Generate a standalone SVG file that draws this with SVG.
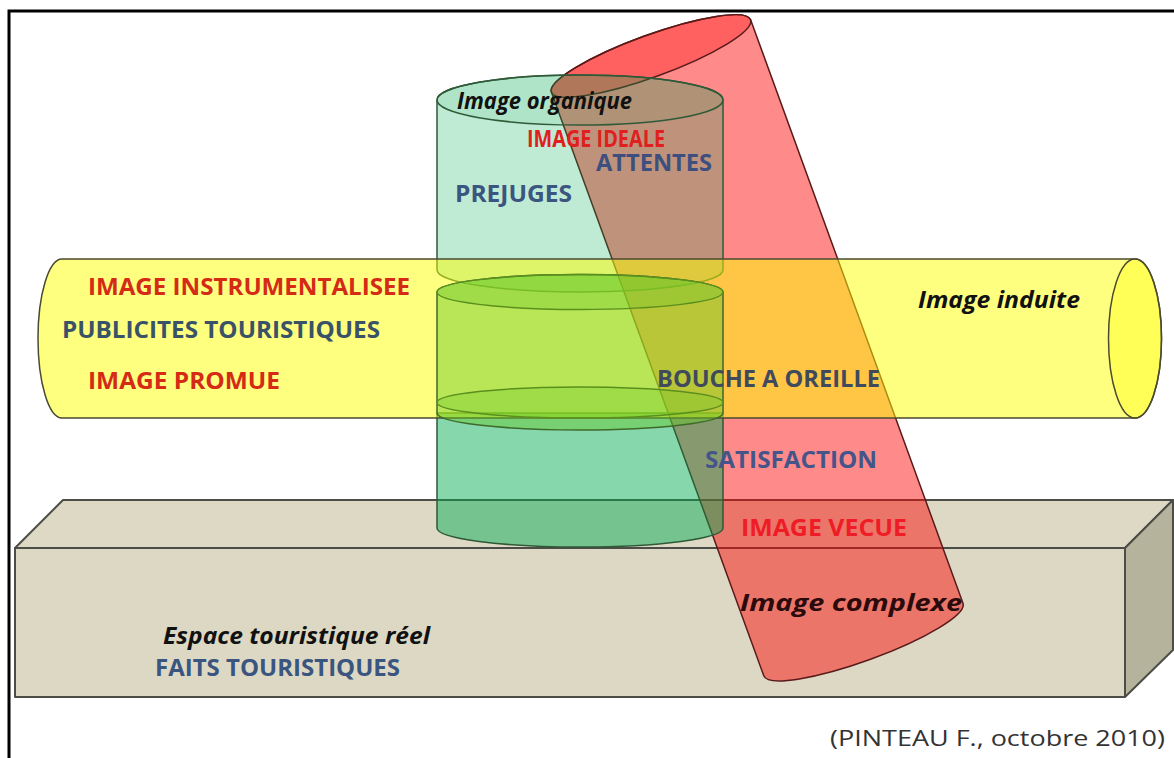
<svg xmlns="http://www.w3.org/2000/svg" width="1174" height="758" viewBox="0 0 1174 758">
<style>
.t{font-family:"Open Sans","Liberation Sans",sans-serif;font-weight:bold;font-size:24px}
.i{font-style:italic;fill:#111}
.r{fill:#e0201e}
.b{fill:#3a5580}
.gs{stroke:#2f5a38;stroke-width:1.5}
.ms{stroke:#5a8f1e;stroke-width:1.5}
</style>
<rect width="1174" height="758" fill="#fff"/>
<path d="M9,758 V11 H1174" fill="none" stroke="#000" stroke-width="3"/>
<g id="box" stroke="#4d4d48" stroke-width="2" stroke-linejoin="round">
<polygon points="15,548 63,500 1173,500 1125,548" fill="#ddd9c5"/>
<polygon points="1125,548 1173,500 1173,650 1125,697" fill="#b6b39c"/>
<rect x="15" y="548" width="1110" height="149" fill="#dcd8c3"/>
</g>
<g id="red-cylinder" transform="translate(651,56) rotate(-20)" stroke="#5a1a1a" stroke-width="1.5">
<path d="M-106,0 L-106,621 A106 21 0 0 0 106,621 L106,0 A106 21 0 0 0 -106,0 Z" fill="#ff0000" fill-opacity="0.46"/>
<ellipse cx="0" cy="0" rx="106" ry="21" fill="#ff0000" fill-opacity="0.3"/>
</g>
<g id="green-cylinder" class="gs">
<path d="M437,100 L437,270 A143 22 0 0 0 723,270 L723,100 A143 25 0 0 0 437,100 Z" fill="#00aa50" fill-opacity="0.25"/>
<ellipse cx="580" cy="100" rx="143" ry="25" fill="#00aa50" fill-opacity="0.08"/>
<path d="M437,413 L437,528 A143 19 0 0 0 723,528 L723,413 Z" fill="#00aa50" fill-opacity="0.47"/>
</g>
<g id="yellow-tube" stroke="#4a4a30" stroke-width="1.5">
<path d="M62,259 L1135,259 A26.5 79.5 0 0 1 1135,418 L62,418 A24 79.5 0 0 1 62,259 Z" fill="#ffff00" fill-opacity="0.5"/>
<ellipse cx="1135" cy="338.5" rx="26.5" ry="79.5" fill="#ffff00" fill-opacity="0.3"/>
</g>
<g id="green-middle" class="ms">
<path d="M437,292 L437,413 A143 17 0 0 0 723,413 L723,292 A143 17.5 0 0 0 437,292 Z" fill="#64c828" fill-opacity="0.45" stroke="#3e6a2a"/>
<ellipse cx="580" cy="292" rx="143" ry="17.5" fill="#64c828" fill-opacity="0.3"/>
<ellipse cx="580" cy="402.5" rx="143" ry="15.5" fill="#64c828" fill-opacity="0.3"/>
</g>
<g id="labels" class="t">
<text class="i" x="457" y="109" textLength="175" lengthAdjust="spacingAndGlyphs">Image organique</text>
<text class="r" x="527" y="147" textLength="138" lengthAdjust="spacingAndGlyphs">IMAGE IDEALE</text>
<text class="b" x="596" y="171" textLength="116" lengthAdjust="spacingAndGlyphs" style="fill:#3d4f7f">ATTENTES</text>
<text class="b" x="455" y="202" textLength="117" lengthAdjust="spacingAndGlyphs">PREJUGES</text>
<text class="r" x="88" y="295" textLength="322" lengthAdjust="spacingAndGlyphs" style="fill:#d42a16">IMAGE INSTRUMENTALISEE</text>
<text class="b" x="62" y="338" textLength="318" lengthAdjust="spacingAndGlyphs" style="fill:#3a5268">PUBLICITES TOURISTIQUES</text>
<text class="r" x="88" y="389" textLength="192" lengthAdjust="spacingAndGlyphs" style="fill:#d42a16">IMAGE PROMUE</text>
<text class="i" x="918" y="308" textLength="162" lengthAdjust="spacingAndGlyphs">Image induite</text>
<text class="b" x="657" y="387" textLength="223" lengthAdjust="spacingAndGlyphs" style="fill:#3f4a5c">BOUCHE A OREILLE</text>
<text class="b" x="705" y="468" textLength="172" lengthAdjust="spacingAndGlyphs" style="fill:#45558a">SATISFACTION</text>
<text class="r" x="741" y="536" textLength="166" lengthAdjust="spacingAndGlyphs" style="fill:#ee1c24">IMAGE VECUE</text>
<text class="i" x="740" y="611" textLength="222" lengthAdjust="spacingAndGlyphs" style="fill:#2a0a0a">Image complexe</text>
<text class="i" x="163" y="644" textLength="267" lengthAdjust="spacingAndGlyphs">Espace touristique réel</text>
<text class="b" x="155" y="676" textLength="245" lengthAdjust="spacingAndGlyphs">FAITS TOURISTIQUES</text>
<text x="830" y="746" textLength="335" lengthAdjust="spacingAndGlyphs" style="font-weight:normal;font-size:22px;fill:#333">(PINTEAU F., octobre 2010)</text>
</g>
</svg>
